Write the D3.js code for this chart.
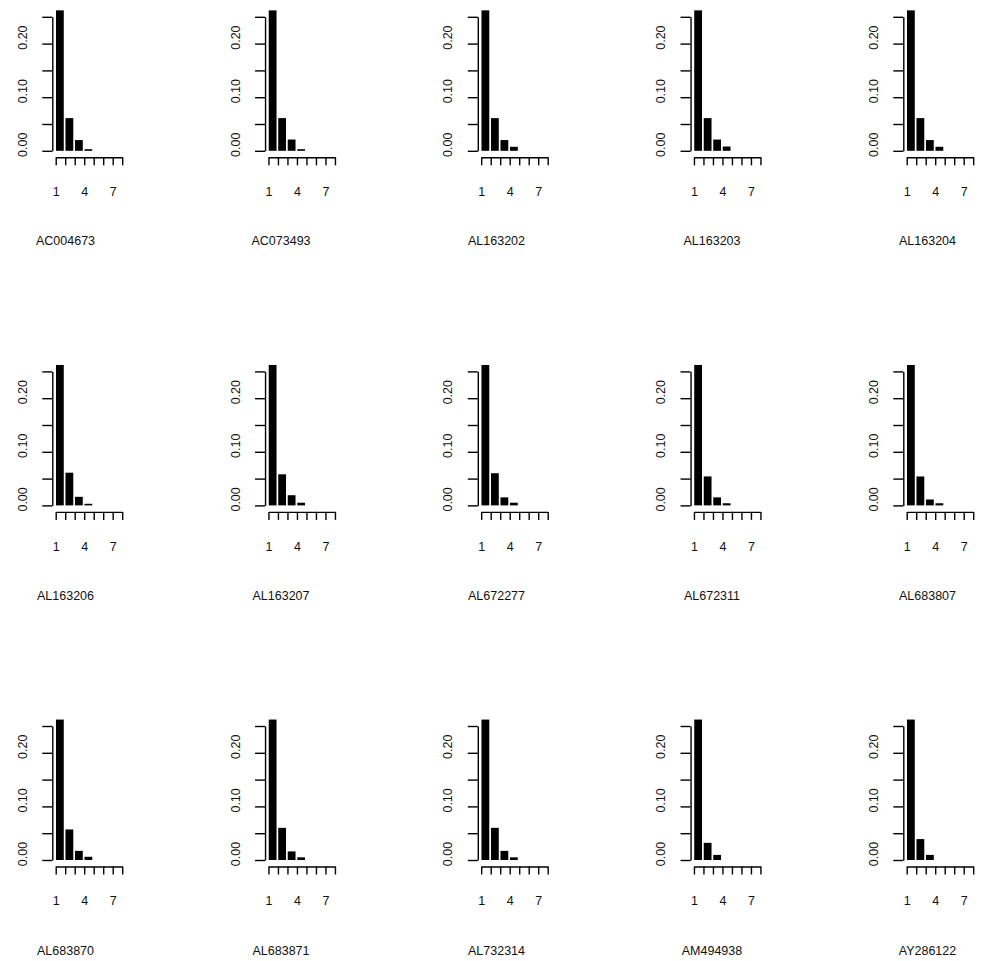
<!DOCTYPE html>
<html>
<head>
<meta charset="utf-8">
<script src="https://cdn.jsdelivr.net/npm/d3@7"></script>
<style>
  html, body { margin: 0; padding: 0; background: #fff; }
  svg { display: block; }
  text { font-family: "Liberation Sans", Arial, sans-serif; fill: #111; }
</style>
</head>
<body>
<svg id="chart" width="988" height="961"></svg>
<script>
// Sequence names, one small panel each (3 rows x 5 columns)
const panelNames = [
  "AC004673", "AC073493", "AL163202", "AL163203", "AL163204",
  "AL163206", "AL163207", "AL672277", "AL672311", "AL683807",
  "AL683870", "AL683871", "AL732314", "AM494938", "AY286122"
];

// Relative frequency of each count class (1, 2, 3, 4) per sequence
const freqClass1 = [0.262, 0.262, 0.262, 0.262, 0.262, 0.262, 0.262, 0.262, 0.262, 0.262, 0.262, 0.262, 0.262, 0.262, 0.262];
const freqClass2 = [0.061, 0.061, 0.061, 0.061, 0.061, 0.061, 0.058, 0.060, 0.054, 0.054, 0.057, 0.060, 0.060, 0.032, 0.039];
const freqClass3 = [0.020, 0.021, 0.020, 0.021, 0.020, 0.016, 0.019, 0.015, 0.015, 0.011, 0.017, 0.016, 0.017, 0.0095, 0.0095];
const freqClass4 = [0.003, 0.003, 0.0075, 0.008, 0.0075, 0.003, 0.005, 0.005, 0.004, 0.004, 0.006, 0.005, 0.005, 0, 0];

// Axis ticks
const xTicks = [1, 2, 3, 4, 5, 6, 7, 8];
const xTickLabels = ["1", "", "", "4", "", "", "7", ""];
const yTicks = [0, 0.05, 0.10, 0.15, 0.20, 0.25];
const yTickLabels = ["0.00", "", "0.10", "", "0.20", ""];

const nCols = 5;
const colPitch = 212.75;
const titlePitch = 215.5;
const rowPitch = 354.6;
const axisX0 = 52.3;     // y axis of the first panel
const titleX0 = 65.5;    // centre of the first panel's name
const zeroY0 = 150.8;    // baseline of the first panel
const plotH = 134;       // pixel height of 0..0.25
const fontPx = 12.5;

const svg = d3.select("#chart");

panelNames.forEach((name, i) => {
  const col = i % nCols, row = Math.floor(i / nCols);
  const ax = axisX0 + col * colPitch;
  const zy = zeroY0 + row * rowPitch;

  const g = svg.append("g").attr("transform", `translate(${ax},${zy})`);

  const y = d3.scaleLinear().domain([0, 0.25]).range([0, -plotH]);
  const x = d3.scaleLinear().domain([1, 8]).range([3.4, 3.4 + 7 * 9.5]);

  const values = [freqClass1[i], freqClass2[i], freqClass3[i], freqClass4[i]];

  // Bars
  g.selectAll("rect.bar")
    .data(values.map((v, k) => ({ k: k + 1, v })).filter(d => d.v > 0))
    .join("rect")
    .attr("class", "bar")
    .attr("x", d => x(d.k + 0.03))
    .attr("width", d => x(d.k + 0.85) - x(d.k + 0.03))
    .attr("y", d => y(d.v))
    .attr("height", d => Math.max(1, y(0) - y(d.v)))
    .attr("fill", "#000");

  // Left axis
  const yAxis = d3.axisLeft(y).tickValues(yTicks)
    .tickFormat(() => "")
    .tickSize(10).tickSizeOuter(0);
  const ya = g.append("g").call(yAxis);
  ya.select(".domain").attr("stroke", "#000").attr("stroke-width", 1.4);
  ya.selectAll(".tick line").attr("stroke", "#000").attr("stroke-width", 1.4);
  // Rotated tick labels
  g.selectAll("text.ylab")
    .data(yTicks.map((t, k) => ({ t, lab: yTickLabels[k] })).filter(d => d.lab))
    .join("text")
    .attr("class", "ylab")
    .attr("transform", d => `translate(-25.5,${y(d.t) - 6}) rotate(-90)`)
    .attr("text-anchor", "middle")
    .attr("font-size", fontPx)
    .text(d => d.lab);

  // Bottom axis
  const xAxis = d3.axisBottom(x).tickValues(xTicks)
    .tickFormat((d, k) => xTickLabels[k])
    .tickSize(8).tickSizeOuter(0).tickPadding(22);
  const xa = g.append("g").attr("transform", "translate(0,6.5)").call(xAxis);
  xa.select(".domain").attr("stroke", "#000").attr("stroke-width", 1.4);
  xa.selectAll(".tick line").attr("stroke", "#000").attr("stroke-width", 1.4);
  xa.selectAll(".tick text").attr("font-size", fontPx)
    .attr("font-family", "Liberation Sans, Arial, sans-serif").attr("fill", "#111");

  // Sequence name underneath
  svg.append("text")
    .attr("x", titleX0 + col * titlePitch)
    .attr("y", zy + 94.5)
    .attr("text-anchor", "middle")
    .attr("font-size", fontPx)
    .text(name);
});
</script>
</body>
</html>
